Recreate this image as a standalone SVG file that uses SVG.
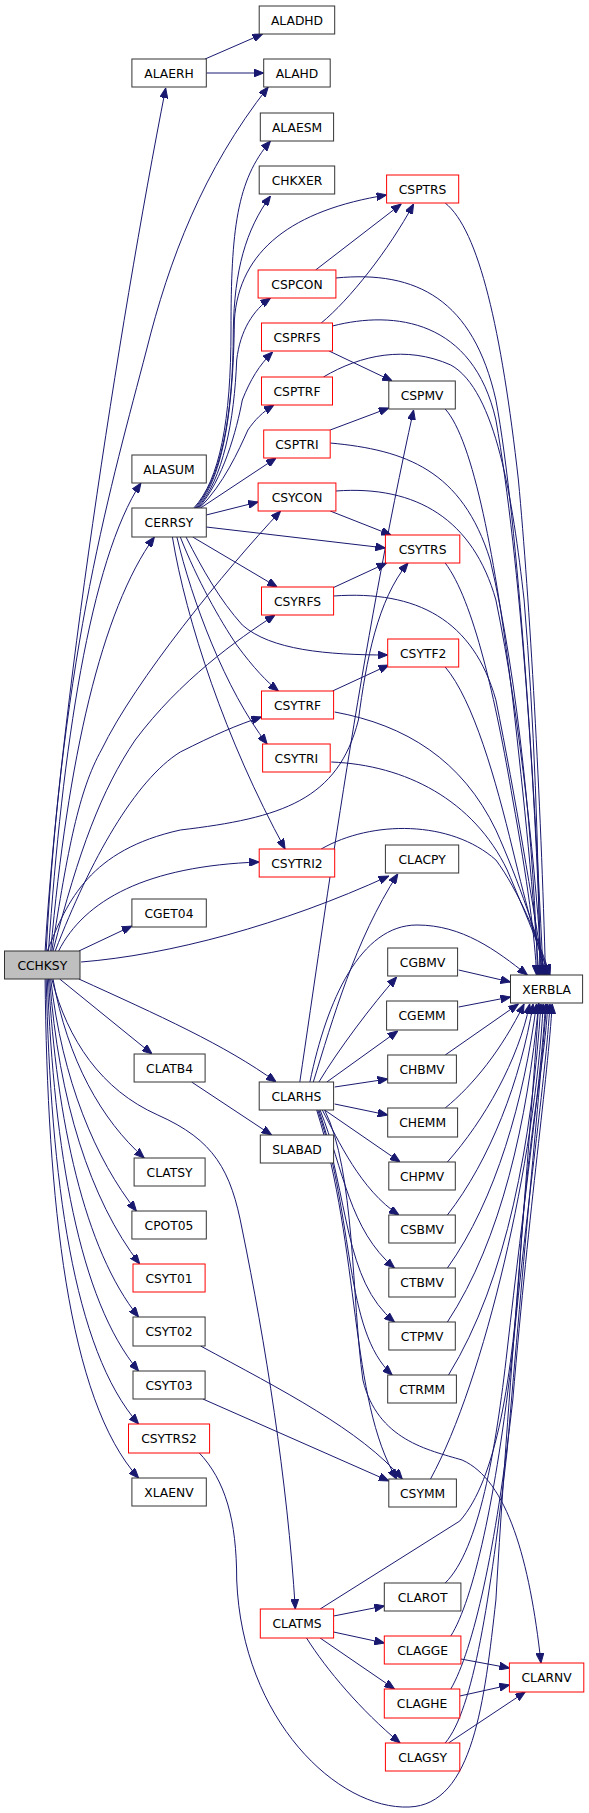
<svg xmlns="http://www.w3.org/2000/svg" width="589" height="1813" viewBox="0 0 589 1813">
<defs>
<style>
rect{fill:#fff;stroke:#333;stroke-width:1}
rect.r{stroke:#ff0000}
rect.g{fill:#bfbfbf}
text{font-family:"DejaVu Sans","Liberation Sans",sans-serif;font-size:12.3px;text-anchor:middle;fill:#000}
#edges path{fill:none;stroke:#191970;stroke-width:1;marker-end:url(#a)}
</style>
<marker id="a" viewBox="0 0 10 8" refX="10" refY="4" markerWidth="10" markerHeight="8" markerUnits="userSpaceOnUse" orient="auto">
<path d="M0,0 L10,4 L0,8 z" fill="#191970" stroke="#191970"/>
</marker>
</defs>
<rect x="0" y="0" width="589" height="1813" style="fill:#fff;stroke:none"/>
<g id="edges">
<path d="M205.1,59 L262.6,34"/>
<path d="M206.2,73 L263.7,73"/>
<path d="M45.1,951 C58.6,720 118.3,330 165.7,88"/>
<path d="M46.2,951 C62,650 112.7,480 146.5,350 C169,260 202.9,170 268.2,87"/>
<path d="M193.8,508 C219.8,480 231,420 231,330 C231,230 236.7,180 270.5,141"/>
<path d="M195,508 C219.8,480 233.3,420 233.3,330 C234.4,270 245.7,230 270.5,196"/>
<path d="M196.1,508 C220.9,480 233.3,420 234.4,320 C238.9,250 293,210 386.6,195"/>
<path d="M197.2,508 C223.1,480 234.4,420 236.7,360 C240.1,330 253.6,310 270.5,298"/>
<path d="M198.4,508 C223.1,480 236.7,430 242.3,400 C250.2,380 259.2,365 272.7,352"/>
<path d="M199.5,508 C223.1,485 238.9,450 247.9,430 C254.7,420 262.6,412 273.9,405"/>
<path d="M200.6,508 L276.1,458"/>
<path d="M206.2,515 L258.1,502"/>
<path d="M206.2,527 L385.4,548"/>
<path d="M192.7,537 L277.2,587"/>
<path d="M186,537 C202.9,570 219.8,600 242.3,625 C270.5,650 326.8,655 387.7,655"/>
<path d="M180.3,537 C197.2,580 219.8,620 236.7,645 C253.6,668 267.1,682 278.4,691"/>
<path d="M176.9,537 C191.6,600 225.4,690 267.1,744"/>
<path d="M172.4,537 C186,620 225.4,740 285.1,849"/>
<path d="M48.5,951 C62,750 90.2,560 140.9,483"/>
<path d="M50.7,951 C67.6,760 101.4,610 154.4,537"/>
<path d="M51.8,951 C67.6,850 78.9,790 101.4,750 C135.2,680 225.4,570 280.6,511"/>
<path d="M53,951 C78.9,850 101.4,790 135.2,740 C180.3,680 236.7,640 275,615"/>
<path d="M47.3,951 C67.6,900 90.2,850 180.3,830 C281.8,818 338.1,800 358.4,720 C366.3,660 377.5,600 408,563"/>
<path d="M55.2,951 C90.2,860 135.2,780 180.3,752 C214.1,735 236.7,725 261.5,717"/>
<path d="M58.6,951 C84.5,900 146.5,866 259.2,862"/>
<path d="M81.1,962 C169,955 281.8,925 388.8,876"/>
<path d="M78.9,951 L131.9,926"/>
<path d="M78.9,979 C157.8,1015 225.4,1045 276.1,1082"/>
<path d="M59.7,979 L152.1,1054"/>
<path d="M51.8,979 C67.6,1040 101.4,1090 157.8,1115 C214.1,1140 231,1170 242.3,1230 C264.8,1340 287.4,1480 295.3,1609"/>
<path d="M53,979 C67.6,1060 101.4,1120 144.3,1158"/>
<path d="M50.7,979 C62,1080 95.8,1160 136.4,1211"/>
<path d="M49.6,979 C58.6,1100 90.2,1200 139.7,1264"/>
<path d="M48.5,979 C56.4,1120 84.5,1250 138.6,1317"/>
<path d="M47.3,979 C54.1,1150 78.9,1300 138.6,1371"/>
<path d="M46.2,979 C50.7,1180 73.3,1350 138.6,1424"/>
<path d="M45.1,979 C47.3,1200 67.6,1400 138.6,1478"/>
<path d="M191.6,1082 L271.6,1135"/>
<path d="M200.6,1346 C281.8,1390 360.6,1430 402.3,1479"/>
<path d="M202.9,1399 L388.8,1481"/>
<path d="M198.4,1452 C225.4,1480 236.7,1520 236.7,1580 C242.3,1720 338.1,1810 409.1,1807 C473.3,1805 484.6,1700 495.9,1600 C507.2,1400 529.7,1150 538.7,1003"/>
<path d="M299.8,1082 C326.8,900 360.6,650 413.6,410"/>
<path d="M334.7,1087 L387.7,1079"/>
<path d="M334.7,1104 L387.7,1115"/>
<path d="M324.6,1110 L400.1,1162"/>
<path d="M322.3,1110 C338.1,1140 360.6,1190 399,1215"/>
<path d="M320.1,1110 C343.7,1170 349.4,1230 394.5,1268"/>
<path d="M318.9,1110 C349.4,1200 343.7,1280 394.5,1322"/>
<path d="M317.8,1110 C355,1220 343.7,1330 392.2,1375"/>
<path d="M316.7,1110 C360.6,1250 349.4,1400 396.7,1479"/>
<path d="M324.6,1110 C355,1170 351.6,1300 362.9,1380 C377.5,1440 428.3,1450 462.1,1460 C507.2,1480 529.7,1560 541,1663"/>
<path d="M318.9,1082 C338.1,1050 371.9,1005 396.7,977"/>
<path d="M326.8,1082 L397.8,1031"/>
<path d="M313.3,1082 C332.5,1020 355,940 397.8,874"/>
<path d="M309.9,1082 C326.8,1000 360.6,925 417,925 C462.1,925 495.9,950 527.4,975"/>
<path d="M458.7,970 L510.5,982"/>
<path d="M458.7,1007 L510.5,997"/>
<path d="M445.2,1055 L518.4,1004"/>
<path d="M445.2,1108 C473.3,1085 501.5,1050 524.1,1004"/>
<path d="M447.4,1162 C484.6,1120 518.4,1060 529.7,1004"/>
<path d="M447.4,1215 C490.2,1160 520.7,1080 533.1,1004"/>
<path d="M447.4,1268 C495.9,1200 524.1,1100 536.5,1004"/>
<path d="M447.4,1322 C501.5,1240 527.4,1120 538.7,1004"/>
<path d="M448.5,1375 C507.2,1280 531.9,1140 541,1004"/>
<path d="M430.5,1479 C484.6,1380 535.3,1160 543.2,1004"/>
<path d="M445.2,1583 C479,1550 495.9,1450 507.2,1350 C524.1,1200 541,1080 545.5,1004"/>
<path d="M320.1,1609 L459.8,1521 C495.9,1480 512.8,1380 520.7,1250 C529.7,1120 545.5,1060 547.7,1004"/>
<path d="M450.8,1636 C473.3,1600 495.9,1500 512.8,1350 C527.4,1200 545.5,1080 550,1004"/>
<path d="M450.8,1689 C473.3,1650 495.9,1550 512.8,1400 C529.7,1200 547.7,1080 552.2,1004"/>
<path d="M445.2,1743 C473.3,1710 490.2,1600 507.2,1450 C524.1,1250 538.7,1100 546.6,1004"/>
<path d="M333.6,1616 L384.3,1606"/>
<path d="M333.6,1632 L384.3,1643"/>
<path d="M320.1,1638 L394.5,1689"/>
<path d="M306.5,1638 C326.8,1670 360.6,1710 400.1,1743"/>
<path d="M460.9,1659 L509.4,1668"/>
<path d="M459.8,1696 L509.4,1685"/>
<path d="M448.5,1743 L525.2,1692"/>
<path d="M332.5,588 L386.6,563"/>
<path d="M330.2,511 L391.1,535"/>
<path d="M332.5,691 L388.8,665"/>
<path d="M315.6,270 L401.2,204"/>
<path d="M321.2,323 C349.4,300 388.8,250 413.6,204"/>
<path d="M329.1,351 L392.2,381"/>
<path d="M330.2,430 L388.8,408"/>
<path d="M445.2,203 C479,230 501.5,330 518.4,480 C529.7,600 541,800 545.5,975"/>
<path d="M335.8,278 C417,270 473.3,300 495.9,400 C518.4,520 535.3,800 543.2,975"/>
<path d="M332.5,326 C394.5,310 473.3,320 495.9,420 C520.7,560 536.5,800 541,975"/>
<path d="M323.4,377 C360.6,355 405.7,345 450.8,365 C495.9,390 512.8,500 524.1,600 C534.2,720 538.7,850 539.8,975"/>
<path d="M445.2,409 C473.3,440 495.9,560 512.8,700 C524.1,800 534.2,900 538.7,975"/>
<path d="M330.2,443 C405.7,450 462.1,470 490.2,560 C518.4,680 534.2,850 537.6,975"/>
<path d="M335.8,491 C417,485 473.3,520 495.9,600 C520.7,720 536.5,880 542.1,975"/>
<path d="M445.2,563 C473.3,600 495.9,700 512.8,800 C527.4,880 535.3,940 536.5,975"/>
<path d="M333.6,596 C417,590 473.3,620 495.9,700 C516.1,800 531.9,900 544.3,975"/>
<path d="M445.2,667 C473.3,700 495.9,780 512.8,850 C527.4,910 538.7,950 546.6,975"/>
<path d="M334.7,712 C405.7,725 462.1,760 495.9,830 C518.4,880 538.7,940 547.7,975"/>
<path d="M331.3,762 C405.7,765 473.3,800 507.2,870 C524.1,910 541,950 548.9,975"/>
<path d="M321.2,849 C371.9,820 450.8,820 495.9,860 C518.4,890 538.7,940 550,975"/>
</g>
<g id="ALADHD"><rect x="259.2" y="6" width="75.5" height="28"/><text x="297" y="24.5">ALADHD</text></g>
<g id="ALAERH"><rect x="131.9" y="59" width="74.4" height="28"/><text x="169" y="77.5">ALAERH</text></g>
<g id="ALAHD"><rect x="263.7" y="59" width="66.5" height="28"/><text x="297" y="77.5">ALAHD</text></g>
<g id="ALAESM"><rect x="260.3" y="113" width="73.3" height="28"/><text x="297" y="131.5">ALAESM</text></g>
<g id="CHKXER"><rect x="259.2" y="166" width="75.5" height="28"/><text x="297" y="184.5">CHKXER</text></g>
<g id="CSPTRS"><rect class="r" x="386.6" y="175" width="72.1" height="28"/><text x="422.6" y="193.5">CSPTRS</text></g>
<g id="CSPCON"><rect class="r" x="258.1" y="270" width="77.8" height="28"/><text x="297" y="288.5">CSPCON</text></g>
<g id="CSPRFS"><rect class="r" x="261.5" y="323" width="71" height="28"/><text x="297" y="341.5">CSPRFS</text></g>
<g id="CSPTRF"><rect class="r" x="261.5" y="377" width="71" height="28"/><text x="297" y="395.5">CSPTRF</text></g>
<g id="CSPMV"><rect x="388.8" y="381" width="66.5" height="28"/><text x="422.1" y="399.5">CSPMV</text></g>
<g id="CSPTRI"><rect class="r" x="263.7" y="430" width="66.5" height="28"/><text x="297" y="448.5">CSPTRI</text></g>
<g id="ALASUM"><rect x="131.9" y="455" width="74.4" height="28"/><text x="169" y="473.5">ALASUM</text></g>
<g id="CSYCON"><rect class="r" x="258.1" y="483" width="77.8" height="28"/><text x="297" y="501.5">CSYCON</text></g>
<g id="CERRSY"><rect x="131.9" y="508" width="74.4" height="29"/><text x="169" y="527">CERRSY</text></g>
<g id="CSYTRS"><rect class="r" x="385.4" y="535" width="74.4" height="28"/><text x="422.6" y="553.5">CSYTRS</text></g>
<g id="CSYRFS"><rect class="r" x="261.5" y="587" width="72.1" height="28"/><text x="297.5" y="605.5">CSYRFS</text></g>
<g id="CSYTF2"><rect class="r" x="387.7" y="639" width="71" height="28"/><text x="423.2" y="657.5">CSYTF2</text></g>
<g id="CSYTRF"><rect class="r" x="261.5" y="691" width="72.1" height="28"/><text x="297.5" y="709.5">CSYTRF</text></g>
<g id="CSYTRI"><rect class="r" x="262.6" y="744" width="67.6" height="28"/><text x="296.4" y="762.5">CSYTRI</text></g>
<g id="CLACPY"><rect x="385.4" y="845" width="73.3" height="28"/><text x="422.1" y="863.5">CLACPY</text></g>
<g id="CSYTRI2"><rect class="r" x="259.2" y="849" width="75.5" height="28"/><text x="297" y="867.5">CSYTRI2</text></g>
<g id="CGET04"><rect x="131.9" y="899" width="74.4" height="28"/><text x="169" y="917.5">CGET04</text></g>
<g id="CGBMV"><rect x="387.7" y="948" width="69.9" height="28"/><text x="422.6" y="966.5">CGBMV</text></g>
<g id="CCHKSY"><rect class="g" x="4.5" y="951" width="75.5" height="28"/><text x="42.3" y="969.5">CCHKSY</text></g>
<g id="XERBLA"><rect x="510.5" y="975" width="72.1" height="28"/><text x="546.6" y="993.5">XERBLA</text></g>
<g id="CGEMM"><rect x="386.6" y="1001" width="71" height="29"/><text x="422.1" y="1020">CGEMM</text></g>
<g id="CLATB4"><rect x="134.1" y="1054" width="71" height="28"/><text x="169.6" y="1072.5">CLATB4</text></g>
<g id="CHBMV"><rect x="387.7" y="1055" width="68.7" height="28"/><text x="422.1" y="1073.5">CHBMV</text></g>
<g id="CLARHS"><rect x="259.2" y="1082" width="74.4" height="28"/><text x="296.4" y="1100.5">CLARHS</text></g>
<g id="CHEMM"><rect x="387.7" y="1108" width="69.9" height="29"/><text x="422.6" y="1127">CHEMM</text></g>
<g id="SLABAD"><rect x="260.3" y="1135" width="73.3" height="28"/><text x="297" y="1153.5">SLABAD</text></g>
<g id="CLATSY"><rect x="134.1" y="1158" width="71" height="28"/><text x="169.6" y="1176.5">CLATSY</text></g>
<g id="CHPMV"><rect x="388.8" y="1162" width="66.5" height="28"/><text x="422.1" y="1180.5">CHPMV</text></g>
<g id="CPOT05"><rect x="131.9" y="1211" width="74.4" height="28"/><text x="169" y="1229.5">CPOT05</text></g>
<g id="CSBMV"><rect x="388.8" y="1215" width="66.5" height="28"/><text x="422.1" y="1233.5">CSBMV</text></g>
<g id="CSYT01"><rect class="r" x="133" y="1264" width="72.1" height="28"/><text x="169" y="1282.5">CSYT01</text></g>
<g id="CTBMV"><rect x="388.8" y="1268" width="66.5" height="29"/><text x="422.1" y="1287">CTBMV</text></g>
<g id="CSYT02"><rect x="133" y="1317" width="72.1" height="29"/><text x="169" y="1336">CSYT02</text></g>
<g id="CTPMV"><rect x="388.8" y="1322" width="66.5" height="28"/><text x="422.1" y="1340.5">CTPMV</text></g>
<g id="CSYT03"><rect x="133" y="1371" width="72.1" height="28"/><text x="169" y="1389.5">CSYT03</text></g>
<g id="CTRMM"><rect x="387.7" y="1375" width="68.7" height="28"/><text x="422.1" y="1393.5">CTRMM</text></g>
<g id="CSYTRS2"><rect class="r" x="128.5" y="1424" width="81.1" height="29"/><text x="169" y="1443">CSYTRS2</text></g>
<g id="XLAENV"><rect x="131.9" y="1478" width="74.4" height="28"/><text x="169" y="1496.5">XLAENV</text></g>
<g id="CSYMM"><rect x="388.8" y="1479" width="67.6" height="28"/><text x="422.6" y="1497.5">CSYMM</text></g>
<g id="CLAROT"><rect x="384.3" y="1583" width="76.6" height="28"/><text x="422.6" y="1601.5">CLAROT</text></g>
<g id="CLATMS"><rect class="r" x="260.3" y="1609" width="73.3" height="29"/><text x="297" y="1628">CLATMS</text></g>
<g id="CLAGGE"><rect class="r" x="384.3" y="1636" width="76.6" height="28"/><text x="422.6" y="1654.5">CLAGGE</text></g>
<g id="CLARNV"><rect class="r" x="509.4" y="1663" width="74.4" height="29"/><text x="546.6" y="1682">CLARNV</text></g>
<g id="CLAGHE"><rect class="r" x="384.3" y="1689" width="75.5" height="29"/><text x="422.1" y="1708">CLAGHE</text></g>
<g id="CLAGSY"><rect class="r" x="385.4" y="1743" width="74.4" height="28"/><text x="422.6" y="1761.5">CLAGSY</text></g>
</svg>
